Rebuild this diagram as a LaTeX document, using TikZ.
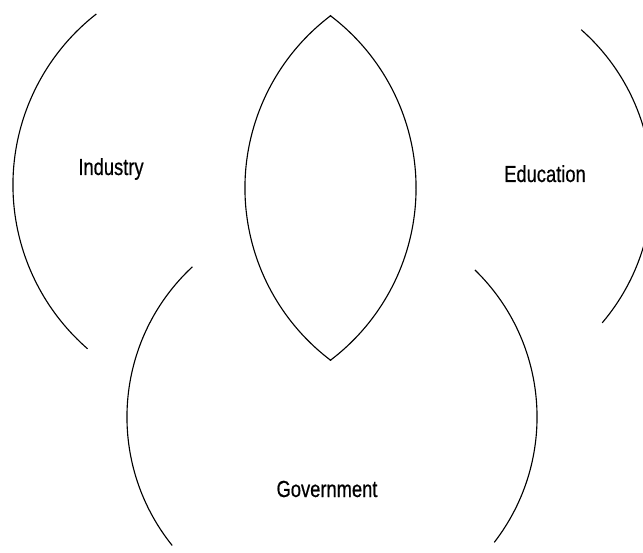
\documentclass[tikz,border=0pt]{standalone}
\usepackage{fontspec}
\newfontfamily\labelfont[FakeStretch=0.79,FakeBold=0.6]{Liberation Sans}

\begin{document}
\begin{tikzpicture}[x=0.025cm,y=0.025cm,
		rim/.style={line width=0.8pt},
		sector/.style={anchor=base,inner sep=0pt,font=\labelfont\fontsize{16.5}{20}\selectfont}]
		\useasboundingbox (0,0) rectangle (643,552);
		\clip (0,0) rectangle (643,552);
		% centres of the arcs
		\coordinate (ind) at (230,367);
		\coordinate (ind_in) at (200,364);
		\coordinate (edu) at (442,365);
		\coordinate (edu_in) at (461,364);
		\coordinate (gov) at (332,135);
		% outer rims
		\draw[rim] (ind) ++(128:5.425cm) arc[start angle=128,end angle=229,radius=5.425cm];
		\draw[rim] (edu) ++(48.5:5.25cm) arc[start angle=48.5,end angle=-40.3,radius=5.25cm];
		\draw[rim] (gov) ++(132.9:5.125cm) arc[start angle=132.9,end angle=218.8,radius=5.125cm];
		\draw[rim] (gov) ++(45.8:5.125cm) arc[start angle=45.8,end angle=-37.7,radius=5.125cm];
		% the lens in the middle
		\draw[rim] (edu_in) ++(127:5.4cm) arc[start angle=127,end angle=233,radius=5.4cm];
		\draw[rim] (ind_in) ++(53:5.4cm) arc[start angle=53,end angle=-53,radius=5.4cm];
		% labels
		\node[sector] (industry) at (111,377) {Industry};
		\node[sector] (education) at (545,370) {Education};
		\node[sector] (government) at (327,55) {Government};
	\end{tikzpicture}
\end{document}
